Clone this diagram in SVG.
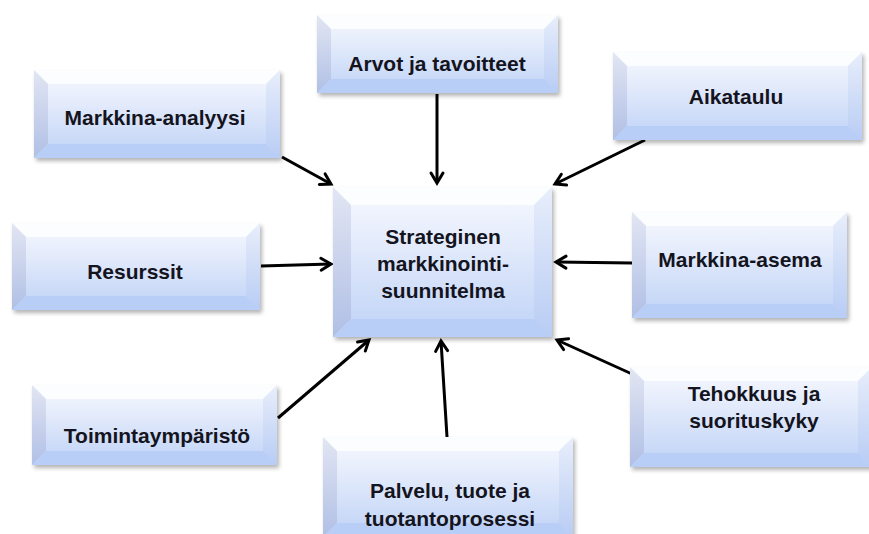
<svg xmlns="http://www.w3.org/2000/svg" width="869" height="534" viewBox="0 0 869 534">
<defs>
<linearGradient id="face" x1="0" y1="0" x2="0" y2="1">
<stop offset="0" stop-color="#f7f9fe"/>
<stop offset="0.4" stop-color="#e2eafb"/>
<stop offset="1" stop-color="#bed2f6"/>
</linearGradient>
<linearGradient id="lb" x1="0" y1="0" x2="0" y2="1">
<stop offset="0" stop-color="#e2e6f3"/>
<stop offset="1" stop-color="#b0bfe5"/>
</linearGradient>
<linearGradient id="rb" x1="0" y1="0" x2="0" y2="1">
<stop offset="0" stop-color="#e8eefb"/>
<stop offset="1" stop-color="#b8ccf4"/>
</linearGradient>
<filter id="sh" x="-10%" y="-10%" width="125%" height="130%">
<feGaussianBlur in="SourceAlpha" stdDeviation="2"/>
<feOffset dx="2" dy="3"/>
<feComponentTransfer><feFuncA type="linear" slope="0.3"/></feComponentTransfer>
<feMerge><feMergeNode/><feMergeNode in="SourceGraphic"/></feMerge>
</filter>
<marker id="arr" viewBox="0 0 14 14" refX="12" refY="7" markerWidth="14" markerHeight="14" markerUnits="userSpaceOnUse" orient="auto" overflow="visible">
<path d="M2,1 L12,7 L2,13" fill="none" stroke="#000" stroke-width="3" stroke-linecap="round" stroke-linejoin="miter"/>
</marker>
</defs>
<style>
.base{fill:url(#face);filter:url(#sh)}
.t{fill:#fdfeff;opacity:0.85}
.l{fill:url(#lb)}
.r{fill:url(#rb)}
.b{fill:#b9cef6}
.lbl{font-family:"Liberation Sans",Arial,sans-serif;font-weight:bold;font-size:21px;fill:#14141e;text-anchor:middle}
.c{stroke:#000;stroke-width:3;fill:none;marker-end:url(#arr)}
</style>
<rect width="869" height="534" fill="#fff"/>

<g id="connectors">
<line class="c" x1="282" y1="157" x2="331" y2="184"/>
<line class="c" x1="437" y1="94" x2="437" y2="183"/>
<line class="c" x1="645" y1="140" x2="555" y2="184"/>
<line class="c" x1="261" y1="266" x2="331" y2="264"/>
<line class="c" x1="632" y1="263" x2="556" y2="262"/>
<line class="c" x1="278" y1="418" x2="369" y2="340"/>
<line class="c" x1="447" y1="437" x2="441" y2="341"/>
<line class="c" x1="632" y1="374" x2="557" y2="340"/>
</g>

<g id="markkina-analyysi">
<rect class="base" x="34" y="70" width="246" height="88"/>
<polygon class="t" points="34,70 280,70 266,84 48,84"/>
<polygon class="l" points="34,70 48,84 48,144 34,158"/>
<polygon class="r" points="280,70 280,158 266,144 266,84"/>
<polygon class="b" points="34,158 48,144 266,144 280,158"/>
<text class="lbl" x="155" y="125">Markkina-analyysi</text>
</g>

<g id="arvot">
<rect class="base" x="317" y="15" width="241" height="78"/>
<polygon class="t" points="317,15 558,15 544,29 331,29"/>
<polygon class="l" points="317,15 331,29 331,79 317,93"/>
<polygon class="r" points="558,15 558,93 544,79 544,29"/>
<polygon class="b" points="317,93 331,79 544,79 558,93"/>
<text class="lbl" x="437" y="71">Arvot ja tavoitteet</text>
</g>

<g id="aikataulu">
<rect class="base" x="613" y="52" width="249" height="88"/>
<polygon class="t" points="613,52 862,52 848,66 627,66"/>
<polygon class="l" points="613,52 627,66 627,126 613,140"/>
<polygon class="r" points="862,52 862,140 848,126 848,66"/>
<polygon class="b" points="613,140 627,126 848,126 862,140"/>
<text class="lbl" x="736" y="104">Aikataulu</text>
</g>

<g id="resurssit">
<rect class="base" x="12" y="223" width="248" height="87"/>
<polygon class="t" points="12,223 260,223 246,237 26,237"/>
<polygon class="l" points="12,223 26,237 26,296 12,310"/>
<polygon class="r" points="260,223 260,310 246,296 246,237"/>
<polygon class="b" points="12,310 26,296 246,296 260,310"/>
<text class="lbl" x="135" y="279">Resurssit</text>
</g>

<g id="strateginen">
<rect class="base" x="333" y="187" width="219" height="150"/>
<polygon class="t" points="333,187 552,187 534,205 351,205"/>
<polygon class="l" points="333,187 351,205 351,319 333,337"/>
<polygon class="r" points="552,187 552,337 534,319 534,205"/>
<polygon class="b" points="333,337 351,319 534,319 552,337"/>
<text class="lbl" x="443" y="244">Strateginen</text>
<text class="lbl" x="443" y="271">markkinointi-</text>
<text class="lbl" x="443" y="298">suunnitelma</text>
</g>

<g id="markkina-asema">
<rect class="base" x="632" y="212" width="215" height="106"/>
<polygon class="t" points="632,212 847,212 833,226 646,226"/>
<polygon class="l" points="632,212 646,226 646,304 632,318"/>
<polygon class="r" points="847,212 847,318 833,304 833,226"/>
<polygon class="b" points="632,318 646,304 833,304 847,318"/>
<text class="lbl" x="740" y="267">Markkina-asema</text>
</g>

<g id="toimintaymparisto">
<rect class="base" x="32" y="385" width="245" height="80"/>
<polygon class="t" points="32,385 277,385 263,399 46,399"/>
<polygon class="l" points="32,385 46,399 46,451 32,465"/>
<polygon class="r" points="277,385 277,465 263,451 263,399"/>
<polygon class="b" points="32,465 46,451 263,451 277,465"/>
<text class="lbl" x="157" y="443">Toimintaympäristö</text>
</g>

<g id="tehokkuus">
<rect class="base" x="630" y="367" width="242" height="100"/>
<polygon class="t" points="630,367 872,367 858,381 644,381"/>
<polygon class="l" points="630,367 644,381 644,453 630,467"/>
<polygon class="r" points="872,367 872,467 858,453 858,381"/>
<polygon class="b" points="630,467 644,453 858,453 872,467"/>
<text class="lbl" x="754" y="401">Tehokkuus ja</text>
<text class="lbl" x="754" y="428">suorituskyky</text>
</g>

<g id="palvelu">
<rect class="base" x="323" y="437" width="250" height="100"/>
<polygon class="t" points="323,437 573,437 559,451 337,451"/>
<polygon class="l" points="323,437 337,451 337,523 323,537"/>
<polygon class="r" points="573,437 573,537 559,523 559,451"/>
<polygon class="b" points="323,537 337,523 559,523 573,537"/>
<text class="lbl" x="450" y="498">Palvelu, tuote ja</text>
<text class="lbl" x="450" y="526">tuotantoprosessi</text>
</g>
</svg>
